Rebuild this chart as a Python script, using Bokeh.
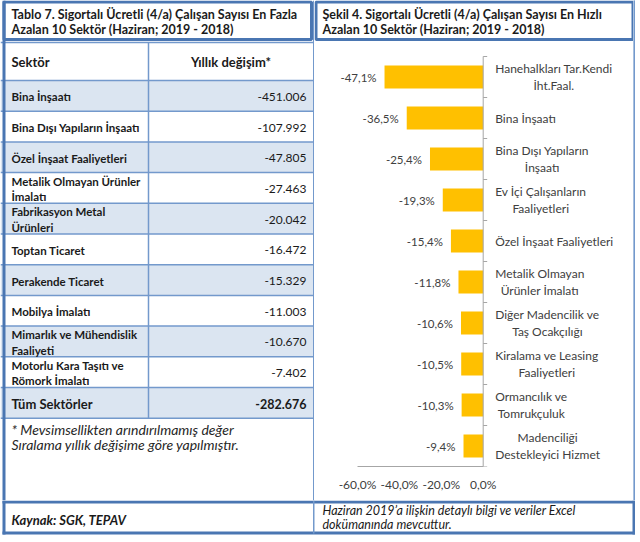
from bokeh.plotting import figure
from bokeh.layouts import row, column
from bokeh.models import (ColumnDataSource, Range1d, FixedTicker,
                          CustomJSTickFormatter, LabelSet, Label)
from bokeh.core.properties import value
from bokeh.embed import file_html
from bokeh.resources import INLINE

# ---------------- data ----------------
table_title = ["Tablo 7. Sigortalı Ücretli (4/a) Çalışan Sayısı En Fazla",
               "Azalan 10 Sektör (Haziran; 2019 - 2018)"]
chart_title = ["Şekil 4. Sigortalı Ücretli (4/a) Çalışan Sayısı En Hızlı",
               "Azalan 10 Sektör (Haziran; 2019 - 2018)"]
table_header = ["Sektör", "Yıllık değişim*"]
table_sectors = ["Bina İnşaatı", "Bina Dışı Yapıların İnşaatı", "Özel İnşaat Faaliyetleri",
                 "Metalik Olmayan Ürünler\nİmalatı", "Fabrikasyon Metal\nÜrünleri",
                 "Toptan Ticaret", "Perakende Ticaret", "Mobilya İmalatı",
                 "Mimarlık ve Mühendislik\nFaaliyeti", "Motorlu Kara Taşıtı ve\nRömork İmalatı"]
table_changes = [-451006, -107992, -47805, -27463, -20042, -16472, -15329, -11003, -10670, -7402]
total_label = "Tüm Sektörler"
total_change = -282676
notes = ["* Mevsimsellikten arındırılmamış değer",
         "Sıralama yıllık değişime göre yapılmıştır."]
source_note = "Kaynak: SGK, TEPAV"
excel_note = ["Haziran 2019’a ilişkin detaylı bilgi ve veriler Excel",
              "dokümanında mevcuttur."]

chart_sectors = ["Hanehalkları Tar.Kendi\nİht.Faal.", "Bina İnşaatı", "Bina Dışı Yapıların\nİnşaatı",
                 "Ev İçi Çalışanların\nFaaliyetleri", "Özel İnşaat Faaliyetleri",
                 "Metalik Olmayan\nÜrünler İmalatı", "Diğer Madencilik ve\nTaş Ocakçılığı",
                 "Kiralama ve Leasing\nFaaliyetleri", "Ormancılık ve\nTomrukçuluk",
                 "Madenciliği\nDestekleyici Hizmet"]
chart_changes = [-47.1, -36.5, -25.4, -19.3, -15.4, -11.8, -10.6, -10.5, -10.3, -9.4]
x_ticks = [-60, -40, -20, 0]

# ---------------- style / layout ----------------
FRAME = "#4a76b2"
GRID = "#7399cc"
SHADE = "#dbe5f1"
BAR = "#ffc000"
TXT = "#404040"
INK = "#1a1a1a"
AXIS = "#a6a6a6"
FONT = "Lato"

LW = 314                # left panel width (divider at its right edge)
RW = 319                # right panel width
STRIP = 2
W = LW + RW + STRIP
TOP_H = 500
BOT_H = 35
TITLE_H = 41
HEADER_TOP = 42
HEADER_BOT = 80
ROW_H = 30.7
COL_X = 148
RIGHT_X = LW - 1
PAD = 11


def blank_fig(w, h, bg="white"):
    f = figure(width=w, height=h, x_range=Range1d(0, w), y_range=Range1d(h, 0),
               output_backend="svg", toolbar_location=None, tools="", min_border=0,
               x_axis_location=None, y_axis_location=None, outline_line_color=None,
               background_fill_color=bg, border_fill_color=bg)
    f.grid.visible = False
    return f


def fmt_thousands(v):
    return f"{v:,}".replace(",", ".")


def txt(f, x, y, t, size, style="normal", align="left", color=INK, lh=1.2):
    f.text(x=x, y=y, text=t, text_font=value(FONT), text_font_style=style,
           text_font_size=size, text_baseline="middle", text_align=align,
           text_color=color, text_line_height=lh)


# ---------------- left panel: table ----------------
lf = blank_fig(LW, TOP_H)
n_rows = len(table_sectors) + 1
row_tops = [HEADER_BOT + i * ROW_H for i in range(n_rows)]
row_bots = [t + ROW_H for t in row_tops]
row_mid = [t + ROW_H / 2 + 1 for t in row_tops]
table_bot = row_bots[-1]
fills = [SHADE if i % 2 == 0 else "white" for i in range(n_rows)]
lf.quad(left=0, right=RIGHT_X, top=row_tops, bottom=row_bots, fill_color=fills, line_color=None)

hlines = [HEADER_TOP, HEADER_BOT] + row_bots
lf.segment(x0=0, x1=RIGHT_X, y0=hlines, y1=hlines, line_color=GRID, line_width=1.5)
lf.segment(x0=[COL_X], x1=[COL_X], y0=[HEADER_TOP], y1=[table_bot], line_color=GRID, line_width=1.5)
lf.segment(x0=[LW - 0.75], x1=[LW - 0.75], y0=[0], y1=[TOP_H], line_color=GRID, line_width=1.5)
lf.segment(x0=[3.5], x1=[3.5], y0=[0], y1=[TOP_H], line_color=FRAME, line_width=3)
lf.quad(left=[3.5], right=[LW - 3], top=[1.5], bottom=[TITLE_H - 2], fill_color=None,
        line_color=FRAME, line_width=3)

txt(lf, [PAD, PAD], [13.5, 29], table_title, "12.5px", "bold")
hmid = (HEADER_TOP + HEADER_BOT) / 2
txt(lf, [PAD], [hmid], [table_header[0]], "13px", "bold")
txt(lf, [(COL_X + RIGHT_X) / 2], [hmid], [table_header[1]], "13px", "bold", "center")
txt(lf, PAD, row_mid[:-1], table_sectors, "11.5px", "bold", lh=1.2)
txt(lf, RIGHT_X - 7, row_mid[:-1], [fmt_thousands(v) for v in table_changes], "12px", align="right")
txt(lf, [PAD], [row_mid[-1]], [total_label], "13px", "bold")
txt(lf, [RIGHT_X - 7], [row_mid[-1]], [fmt_thousands(total_change)], "12.5px", "bold", "right")
txt(lf, PAD, [table_bot + 11, table_bot + 26], notes, "14px", "italic", color="#262626")

# ---------------- right panel: title + bar chart in one figure ----------------
N = len(chart_sectors)
AX_H = 34                      # room for the x axis below the plot area
FH = TOP_H - AX_H              # frame height
PT = 56                        # plot-area top inside the frame (px)
ZERO_PX = 168.7                # x position of 0 % inside the frame (px)
MIN_PX = 43                    # x position of the lowest tick (px)
px_per = (ZERO_PX - MIN_PX) / (0 - min(x_ticks))
slot_px = (FH - PT) / N


def X(px):
    return (px - ZERO_PX) / px_per


def Y(py):
    return (FH - py) / slot_px


slot = [N - i - 0.5 for i in range(N)]          # category i centred in slot i from the top
src = ColumnDataSource(dict(slot=slot, val=chart_changes,
                            lbl=[f"{v:.1f}%".replace(".", ",") for v in chart_changes]))
cf = figure(width=RW, height=TOP_H, x_range=Range1d(X(0), X(RW)), y_range=Range1d(Y(FH), Y(0)),
            output_backend="svg", toolbar_location=None, tools="",
            min_border_left=0, min_border_right=0, min_border_top=0, min_border_bottom=AX_H,
            y_axis_location=None, outline_line_color=None)
cf.grid.visible = False

# title box
cf.quad(left=[X(1.5)], right=[X(RW - 0.5)], top=[Y(1.5)], bottom=[Y(TITLE_H - 2)],
        fill_color=None, line_color=FRAME, line_width=3)
txt(cf, [X(8), X(8)], [Y(13.5), Y(29)], chart_title, "12.5px", "bold")

# bars
cf.hbar(y="slot", left="val", right=0, height=0.56, fill_color=BAR, line_color=None, source=src)

# category axis line + tick marks between categories
cf.segment(x0=[0], x1=[0], y0=[0], y1=[N], line_color=AXIS, line_width=1)
cf.ray(x=0, y=list(range(N + 1)), length=4, length_units="screen", angle=0,
       line_color=AXIS, line_width=1)

cf.add_layout(LabelSet(x="val", y="slot", text="lbl", source=src, x_offset=-8,
                       text_align="right", text_baseline="middle", text_font=value(FONT),
                       text_font_size="11.5px", text_color=TXT))
for s, c in zip(slot, chart_sectors):
    cf.add_layout(Label(x=0, y=s, x_offset=12, text=c,
                        anchor="center_left", text_align="center",
                        text_baseline="middle", text_font=FONT, text_font_size="12px",
                        text_color=TXT, text_line_height=1.1))

xa = cf.xaxis[0]
xa.bounds = (min(x_ticks), max(x_ticks))
xa.ticker = FixedTicker(ticks=x_ticks)
xa.formatter = CustomJSTickFormatter(code="return tick.toFixed(1).replace('.', ',') + '%';")
xa.major_tick_out = 0
xa.major_tick_in = 0
xa.minor_tick_out = 0
xa.minor_tick_in = 0
xa.axis_line_color = AXIS
xa.major_label_standoff = 10
xa.major_label_text_font = FONT
xa.major_label_text_font_size = "12px"
xa.major_label_text_color = TXT

# ---------------- right border strip ----------------
sf = blank_fig(STRIP, TOP_H, bg=GRID)
sf.quad(left=[0], right=[STRIP], top=[0], bottom=[TOP_H], fill_color=GRID, line_color=None)

# ---------------- bottom row ----------------
bf = blank_fig(W, BOT_H)
bf.segment(x0=[2, 2], x1=[W, W], y0=[1.5, BOT_H - 2.5], y1=[1.5, BOT_H - 2.5],
           line_color=FRAME, line_width=3)
bf.segment(x0=[3.5, W - 1.5], x1=[3.5, W - 1.5], y0=[0, 0], y1=[BOT_H - 1, BOT_H - 1],
           line_color=FRAME, line_width=3)
bf.segment(x0=[LW - 0.75], x1=[LW - 0.75], y0=[0], y1=[BOT_H - 2], line_color=GRID, line_width=1.5)
txt(bf, [PAD], [19], [source_note], "13px", "bold italic")
txt(bf, [LW + 8, LW + 8], [9.5, 24], excel_note, "12.5px", "italic")

layout = column(row(lf, column(cf), sf), bf)
open("out.html", "w").write(file_html(layout, INLINE))
